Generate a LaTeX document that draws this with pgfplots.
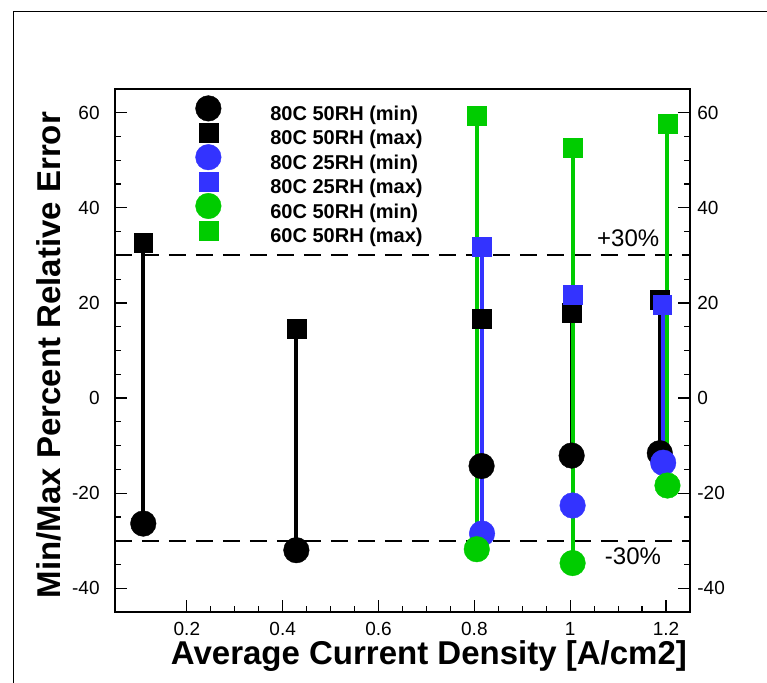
\documentclass[border=0pt]{standalone}
\usepackage{pgfplots}
\pgfplotsset{compat=1.18}
\usepackage{fontspec}
\setmainfont{Liberation Sans}
\definecolor{myblue}{RGB}{51,51,255}
\definecolor{mygreen}{RGB}{0,204,0}
\pgfplotsset{
  lgm/.style={legend image code/.code={%
    \path[use as bounding box, draw=none, fill=none] (0pt,-3pt) rectangle (31pt,8pt);
    \draw[##1] plot coordinates {(0pt,3.6pt)};}},
  seg/.style={line width=2pt, forget plot},
  cmark/.style={only marks, mark=*, mark size=6.4pt, mark options={solid,line width=0.2pt}, lgm},
  smark/.style={only marks, mark=square*, mark size=4.7pt, mark options={solid,line width=0.2pt}, lgm},
}
\begin{document}
\begin{tikzpicture}
\path[use as bounding box] (-57.5pt,-35pt) rectangle (326pt,306pt);
\draw[line width=0.5pt] (-50.5pt,-40pt) -- (-50.5pt,300.5pt) -- (330pt,300.5pt);
\begin{axis}[
  at={(0,0)}, anchor=south west,
  scale only axis, width=287.5pt, height=261.5pt,
  xmin=0.05, xmax=1.25, ymin=-45, ymax=65,
  xtick={0.2,0.4,0.6,0.8,1,1.2},
  ytick={-40,-20,0,20,40,60},
  minor x tick num=3, minor y tick num=3,
  xtick pos=left, ytick pos=both, yticklabel pos=left,
  tick align=inside,
  major tick length=6pt, minor tick length=3pt,
  axis line style={line width=0.7pt},
  every tick/.style={line width=0.6pt, black},
  /pgf/number format/assume math mode=true,
  tick label style={font=\fontsize{9.5}{11}\selectfont},
  xticklabel style={anchor=north, inner sep=0pt, yshift=-5pt},
  yticklabel style={anchor=east, inner sep=0pt, xshift=-7.5pt},
  every axis x label/.style={at={(axis description cs:0.546,-0.1013)}, anchor=base, font=\bfseries\fontsize{16.5}{20}\selectfont},
  every axis y label/.style={at={(axis description cs:-0.094,0.4914)}, rotate=90, anchor=base, font=\bfseries\fontsize{16.5}{20}\selectfont},
  xlabel={Average Current Density [A/cm2]},
  ylabel={Min/Max Percent Relative Error},
  legend style={at={(0.1617,0.9805)}, anchor=north west, draw=none, fill=none,
    font=\bfseries\fontsize{10}{12}\selectfont, row sep=-1.3pt, inner sep=0pt,
    nodes={inner sep=0pt, text height=8pt, text depth=3pt}},
  legend cell align=left,
]
% dashed +-30% lines
\addplot[black, line width=1pt, dash pattern=on 8.5pt off 5pt, forget plot] coordinates {(0.05,30) (1.25,30)};
\addplot[black, line width=1pt, dash pattern=on 8.5pt off 5pt, forget plot] coordinates {(0.05,-30) (1.25,-30)};
% 80C 50RH
\addplot[black, seg, unbounded coords=jump] coordinates {
 (0.109,-26.4) (0.109,32.6) (0.109,nan)
 (0.4285,-32.0) (0.4285,14.6) (0.4285,nan)
 (0.815,-14.3) (0.815,16.7) (0.815,nan)
 (1.003,-12.1) (1.003,18.0) (1.003,nan)
 (1.187,-11.6) (1.187,20.7)};
\addplot[black, mark options={fill=black}, cmark] coordinates {(0.109,-26.4) (0.4285,-32.0) (0.815,-14.3) (1.003,-12.1) (1.187,-11.6)};
\addlegendentry{80C 50RH (min)}
\addplot[black, mark options={fill=black}, smark] coordinates {(0.109,32.6) (0.4285,14.6) (0.815,16.7) (1.003,18.0) (1.187,20.7)};
\addlegendentry{80C 50RH (max)}
% 80C 25RH
\addplot[myblue, seg, unbounded coords=jump] coordinates {
 (0.816,-28.5) (0.816,31.8) (0.816,nan)
 (1.005,-22.6) (1.005,21.8) (1.005,nan)
 (1.194,-13.6) (1.194,19.7)};
\addplot[myblue, mark options={fill=myblue}, cmark] coordinates {(0.816,-28.5) (1.005,-22.6) (1.194,-13.6)};
\addlegendentry{80C 25RH (min)}
\addplot[myblue, mark options={fill=myblue}, smark] coordinates {(0.816,31.8) (1.005,21.8) (1.192,19.7)};
\addlegendentry{80C 25RH (max)}
% 60C 50RH
\addplot[mygreen, seg, unbounded coords=jump] coordinates {
 (0.805,-31.8) (0.805,59.4) (0.805,nan)
 (1.005,-34.7) (1.005,52.7) (1.005,nan)
 (1.203,-18.4) (1.203,57.7)};
\addplot[mygreen, mark options={fill=mygreen}, cmark] coordinates {(0.805,-31.8) (1.005,-34.7) (1.203,-18.4)};
\addlegendentry{60C 50RH (min)}
\addplot[mygreen, mark options={fill=mygreen}, smark] coordinates {(0.805,59.4) (1.005,52.7) (1.203,57.7)};
\addlegendentry{60C 50RH (max)}
\node[font=\fontsize{12}{14}\selectfont] at (axis cs:1.121,33.7) {+30\%};
\node[font=\fontsize{12}{14}\selectfont] at (axis cs:1.131,-33.3) {-30\%};
\end{axis}
\begin{axis}[
  at={(0,0)}, anchor=south west,
  scale only axis, width=287.5pt, height=261.5pt,
  xmin=0.05, xmax=1.25, ymin=-45, ymax=65,
  hide x axis, axis y line*=right,
  y axis line style={draw=none},
  ytick={-40,-20,0,20,40,60}, minor y tick num=0,
  major tick length=0pt, ytick style={draw=none},
  /pgf/number format/assume math mode=true,
  tick label style={font=\fontsize{9.5}{11}\selectfont},
  yticklabel style={anchor=west, inner sep=0pt, xshift=3.5pt},
]
\end{axis}
\end{tikzpicture}
\end{document}
